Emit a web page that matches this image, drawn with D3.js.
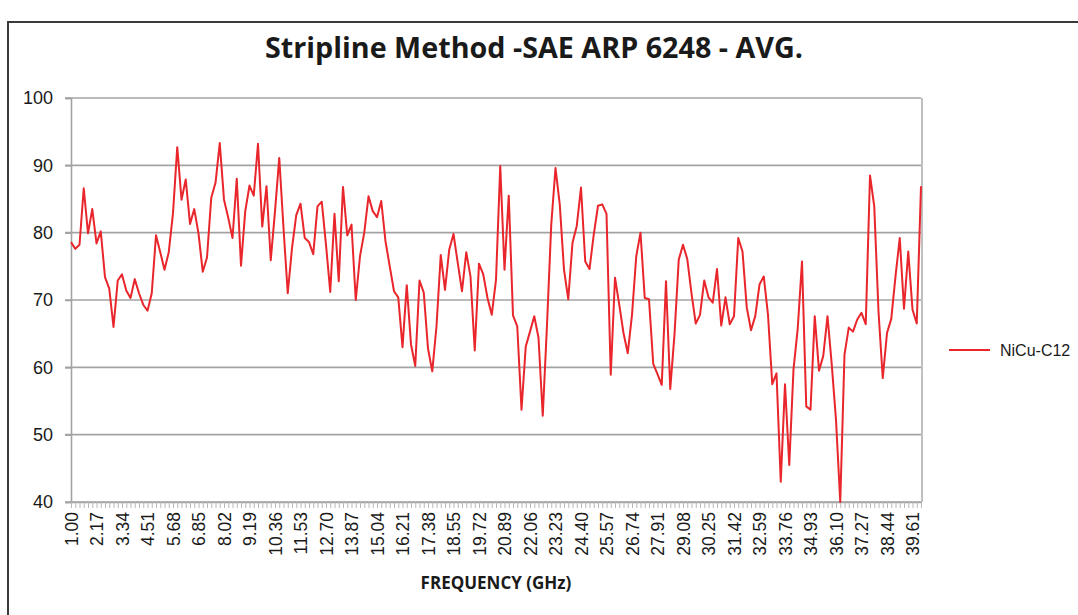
<!DOCTYPE html>
<meta charset="utf-8">
<title>Stripline Method</title>
<script src="https://cdn.jsdelivr.net/npm/d3@7"></script>
<style>
  body { margin: 0; background: #fff; }
  svg text { fill: #1a1a1a; }
</style>
<body>
<script>

// frequency axis: 1.00 GHz to 40.00 GHz, 201 points
var freqStart = 1.00
   ,freqStep = 0.195
   ,labelEvery = 6;

var yTicks = [40, 50, 60, 70, 80, 90, 100];

var seriesName = "NiCu-C12";
var nicu = [
  78.6, 77.6, 78.2, 86.6, 79.9, 83.5, 78.4, 80.2, 73.4, 71.7,
  66.0, 72.9, 73.8, 71.4, 70.3, 73.1, 71.0, 69.3, 68.4, 71.0,
  79.6, 77.1, 74.5, 77.1, 82.9, 92.7, 84.9, 87.9, 81.3, 83.5,
  79.9, 74.2, 76.3, 85.2, 87.4, 93.3, 84.9, 82.2, 79.2, 88.0,
  75.1, 83.2, 87.0, 85.5, 93.2, 80.9, 86.9, 75.9, 83.2, 91.1,
  80.7, 71.0, 77.7, 82.6, 84.3, 79.2, 78.6, 76.8, 83.9, 84.6,
  78.2, 71.2, 82.8, 72.8, 86.8, 79.6, 81.2, 70.0, 76.5, 80.0,
  85.4, 83.2, 82.3, 84.7, 78.7, 75.0, 71.3, 70.4, 63.0, 72.2,
  63.4, 60.2, 72.9, 71.1, 62.8, 59.4, 66.1, 76.7, 71.5, 77.5,
  79.8, 75.5, 71.3, 77.1, 73.5, 62.5, 75.4, 73.8, 70.3, 67.8,
  73.0, 89.9, 74.5, 85.5, 67.7, 66.1, 53.7, 63.1, 65.3, 67.6,
  64.4, 52.8, 66.3, 81.2, 89.6, 84.2, 74.5, 70.1, 78.5, 81.0,
  86.7, 75.7, 74.6, 79.7, 84.0, 84.2, 82.8, 58.9, 73.3, 69.3,
  65.1, 62.1, 67.8, 76.5, 80.0, 70.3, 70.1, 60.5, 59.0, 57.4,
  72.8, 56.8, 64.9, 76.0, 78.2, 76.1, 71.0, 66.5, 67.8, 72.9,
  70.4, 69.6, 74.6, 66.2, 70.4, 66.4, 67.6, 79.2, 77.2, 68.9,
  65.5, 67.6, 72.3, 73.5, 67.8, 57.5, 59.1, 43.0, 57.5, 45.5,
  59.7, 65.8, 75.7, 54.2, 53.7, 67.6, 59.5, 61.7, 67.6, 60.4,
  52.2, 40.0, 61.9, 65.9, 65.3, 67.1, 68.1, 66.4, 88.5, 83.9,
  68.3, 58.4, 65.1, 67.2, 73.5, 79.2, 68.7, 77.2, 68.6, 66.5,
  86.9
];

var freqs = nicu.map(function (d, i) { return (freqStart + i * freqStep).toFixed(2) });

var svg_w = 1078
   ,svg_h = 615
   ,plotL = 71, plotR = 921, plotT = 98, plotB = 502;

var svg = d3.select("body").append("svg")
            .attr("width", svg_w)
            .attr("height", svg_h);

// chart frame (cut off at the right and bottom in the original)
svg.append("rect")
  .attr("x", 8).attr("y", 22)
  .attr("width", 1090).attr("height", 620)
  .attr("fill", "none")
  .attr("stroke", "#3a3a3a")
  .attr("stroke-width", 2);

svg.append("text")
  .attr("x", 534).attr("y", 58)
  .attr("text-anchor", "middle")
  .attr("textLength", 538)
  .attr("lengthAdjust", "spacingAndGlyphs")
  .style("font-family", "'Open Sans', sans-serif")
  .style("font-weight", "bold")
  .style("font-size", "28px")
  .text("Stripline Method -SAE ARP 6248 - AVG.");

var x = d3.scalePoint()
  .domain(freqs)
  .range([plotL, plotR]);

var y = d3.scaleLinear()
  .domain([40, 100])
  .range([plotB, plotT]);

// gridlines
svg.append("g")
  .selectAll("line")
  .data(yTicks)
  .enter().append("line")
  .attr("x1", plotL - 6).attr("x2", plotR)
  .attr("y1", function (d) { return y(d) })
  .attr("y2", function (d) { return y(d) })
  .attr("stroke", "#a3a3a3")
  .attr("stroke-width", 1.6);

// right border of plot area
svg.append("line")
  .attr("x1", plotR + 1).attr("x2", plotR + 1)
  .attr("y1", plotT).attr("y2", plotB)
  .attr("stroke", "#b0b0b0")
  .attr("stroke-width", 1.6);

// y axis
var yAxis = svg.append("g")
  .attr("transform", "translate(" + plotL + ",0)")
  .call(d3.axisLeft(y).tickValues(yTicks).tickSize(6).tickPadding(12));
yAxis.select(".domain").attr("stroke", "#a3a3a3").attr("stroke-width", 1.6);
yAxis.selectAll(".tick line").attr("stroke", "#a3a3a3").attr("stroke-width", 1.6);
yAxis.selectAll("text")
  .style("font-family", "'Liberation Sans', Arial, sans-serif")
  .style("font-size", "18px")
  .attr("fill", "#1a1a1a");

// x axis, a tick per point, a label every 6th
var xAxis = svg.append("g")
  .attr("transform", "translate(0," + plotB + ")")
  .call(d3.axisBottom(x).tickSize(6).tickSizeOuter(0)
    .tickFormat(function (d, i) { return i % labelEvery == 0 ? d : "" }));
xAxis.select(".domain").attr("stroke", "#a3a3a3").attr("stroke-width", 1.6);
xAxis.selectAll(".tick line").attr("stroke", "#b8b8b8").attr("stroke-width", 1);
xAxis.selectAll("text")
  .style("font-family", "'Liberation Sans', Arial, sans-serif")
  .style("font-size", "17.5px")
  .attr("fill", "#1a1a1a")
  .attr("text-anchor", "end")
  .attr("transform", "rotate(-90)")
  .attr("x", -10)
  .attr("y", 0)
  .attr("dy", "0.35em");

svg.append("text")
  .attr("x", (plotL + plotR) / 2).attr("y", 589)
  .attr("text-anchor", "middle")
  .style("font-family", "'Open Sans', sans-serif")
  .style("font-weight", "bold")
  .style("font-size", "17px")
  .text("FREQUENCY (GHz)");

// the series
var line = d3.line()
  .x(function (d, i) { return x(freqs[i]) })
  .y(function (d) { return y(d) });

svg.append("path")
  .datum(nicu)
  .attr("d", line)
  .attr("fill", "none")
  .attr("stroke", "#e8262b")
  .attr("stroke-width", 2)
  .attr("stroke-linejoin", "round");

// legend
svg.append("line")
  .attr("x1", 949).attr("x2", 990)
  .attr("y1", 350).attr("y2", 350)
  .attr("stroke", "#e8262b")
  .attr("stroke-width", 2);
svg.append("text")
  .attr("x", 1000).attr("y", 356)
  .style("font-family", "'Liberation Sans', Arial, sans-serif")
  .style("font-size", "16px")
  .text(seriesName);

</script>
